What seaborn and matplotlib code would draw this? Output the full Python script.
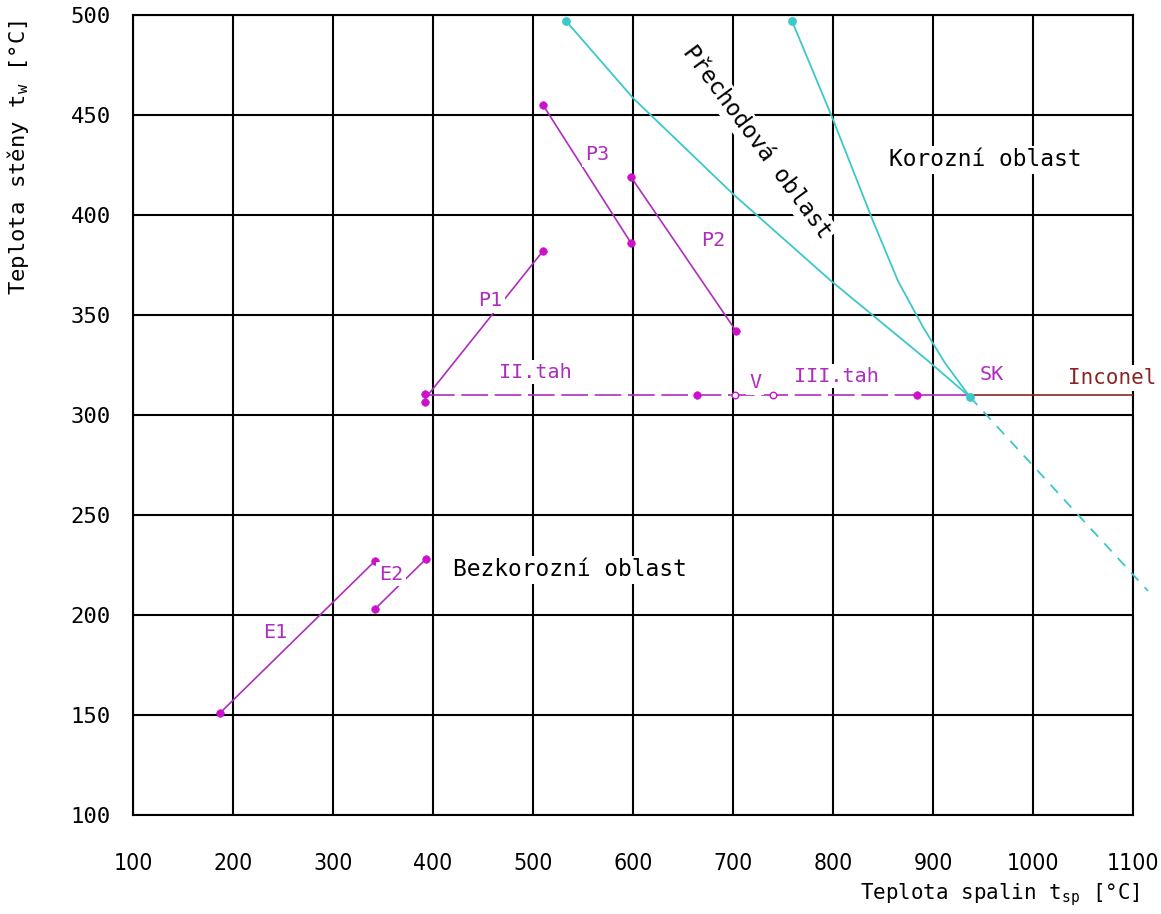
import matplotlib
matplotlib.use("Agg")
import matplotlib.pyplot as plt
import seaborn as sns
import numpy as np

# ---- data ----
e1_x = [187, 342]; e1_y = [151, 227]
e2_x = [342, 393]; e2_y = [203, 228]
p1_x = [395, 510]; p1_y = [310, 382]
p3_x = [510, 598]; p3_y = [455, 386]
p2_x = [598, 703]; p2_y = [419, 342]

tah_dash_x = [395, 884]; tah_dash_y = [310, 310]
tah_solid_x = [884, 937]; tah_solid_y = [310, 310]
inconel_x = [937, 1100]; inconel_y = [310, 310]

filled_x = [187, 342, 342, 393, 392, 392, 510, 510, 598, 598, 703, 664, 884]
filled_y = [151, 227, 203, 228, 310.5, 306.5, 382, 455, 386, 419, 342, 310, 310]
open_x = [702, 740]
open_y = [310, 310]

cyan1_x = [533, 600, 700, 797, 894, 937]
cyan1_y = [497, 458.5, 410.5, 367.5, 327.5, 309]
cyan2_x = [759, 799, 840, 865, 890, 912, 937]
cyan2_y = [497, 449, 397, 367, 344, 326, 309]
cyan_dash_x = [937, 1115]
cyan_dash_y = [309, 212]
cyan_pts_x = [533, 759, 937]
cyan_pts_y = [497, 497, 309]

x_ticks = list(range(100, 1101, 100))
y_ticks = list(range(100, 501, 50))

# ---- styling ----
sns.set_style("white")
plt.rcParams['font.family'] = ['DejaVu Sans Mono', 'DejaVu Sans']
plt.rcParams['text.color'] = 'black'
plt.rcParams['xtick.color'] = 'black'
plt.rcParams['ytick.color'] = 'black'

MAG = "#b02cc0"
MAGP = "#cc11cc"
CYAN = "#3cc8c8"
INC = "#8b2525"

fig = plt.figure(figsize=(11.61, 9.14), dpi=100)
ax = fig.add_axes([133/1161, 1-815/914, 1000/1161, 800/914])

ax.set_xlim(100, 1100)
ax.set_ylim(100, 500)
ax.set_xticks(x_ticks)
ax.set_yticks(y_ticks)
ax.grid(True, color="black", lw=1.5, zorder=0)
ax.set_axisbelow(True)
for s in ax.spines.values():
    s.set_color("black"); s.set_linewidth(1.5)
ax.tick_params(axis="both", direction="out", length=7, width=1.5, color="black",
               labelcolor="black")
ax.tick_params(axis="x", pad=20, labelsize=16.5)
ax.tick_params(axis="y", pad=9, labelsize=16)
for lab in ax.get_xticklabels():
    lab.set_fontfamily("DejaVu Sans")
    lab.set_fontstretch("condensed")

lw = 1.2
for xs, ys in [(e1_x, e1_y), (e2_x, e2_y), (p1_x, p1_y), (p3_x, p3_y), (p2_x, p2_y)]:
    sns.lineplot(x=xs, y=ys, ax=ax, color=MAG, lw=lw, sort=False, estimator=None, zorder=3)
sns.lineplot(x=tah_dash_x, y=tah_dash_y, ax=ax, color=MAG, lw=lw, sort=False,
             estimator=None, linestyle=(0, (16, 4)), zorder=3)
sns.lineplot(x=tah_solid_x, y=tah_solid_y, ax=ax, color=MAG, lw=lw, sort=False, estimator=None, zorder=3)
sns.lineplot(x=inconel_x, y=inconel_y, ax=ax, color=INC, lw=lw, sort=False, estimator=None, zorder=3)

sns.lineplot(x=cyan1_x, y=cyan1_y, ax=ax, color=CYAN, lw=1.3, sort=False, estimator=None, zorder=3)
sns.lineplot(x=cyan2_x, y=cyan2_y, ax=ax, color=CYAN, lw=1.3, sort=False, estimator=None, zorder=3)
sns.lineplot(x=cyan_dash_x, y=cyan_dash_y, ax=ax, color=CYAN, lw=1.3, sort=False,
             estimator=None, linestyle=(0, (6, 5)), zorder=3, clip_on=False)

sns.scatterplot(x=filled_x, y=filled_y, ax=ax, color=MAGP, s=30, edgecolor=MAGP, zorder=4)
sns.scatterplot(x=open_x, y=open_y, ax=ax, facecolor="white", s=22, edgecolor=MAGP,
                linewidth=1.0, zorder=4)
sns.scatterplot(x=cyan_pts_x, y=cyan_pts_y, ax=ax, color=CYAN, s=34, edgecolor=CYAN, zorder=4,
                clip_on=False)

box = dict(facecolor="white", edgecolor="none", pad=2)
mag_labels = [("P3", 564, 430), ("P2", 680, 387), ("P1", 457, 357), ("E1", 242, 191.5),
              ("E2", 358, 220.5), ("II.tah", 502, 321.5), ("V", 722, 316),
              ("III.tah", 803, 319.5), ("SK", 959, 320)]
for t, x, y in mag_labels:
    ax.text(x, y, t, color=MAG, fontsize=14.5, ha="center", va="center", zorder=5, bbox=box)
ax.text(1079, 318.5, "Inconel", color=INC, fontsize=15, ha="center", va="center", zorder=5,
        bbox=box, clip_on=False)
ax.text(537, 222.5, "Bezkorozní oblast", color="black", fontsize=16.5, ha="center", va="center",
        zorder=5, bbox=box)
ax.text(952, 427.5, "Korozní oblast", color="black", fontsize=16.5, ha="center", va="center",
        zorder=5, bbox=box)
ax.text(724, 436.5, "Přechodová oblast", color="black", fontsize=16.5, ha="center", va="center",
        rotation=-53.5, rotation_mode="anchor", zorder=5, bbox=box)

fig.text(18/1161, 1-20/914, r"Teplota stěny t$_\mathregular{w}$ [°C]", rotation=90,
         ha="center", va="top", fontsize=16)
fig.text(1140/1161, 1-895/914, r"Teplota spalin t$_\mathregular{sp}$ [°C]",
         ha="right", va="center", fontsize=15)

fig.savefig("out.png", dpi=100)
